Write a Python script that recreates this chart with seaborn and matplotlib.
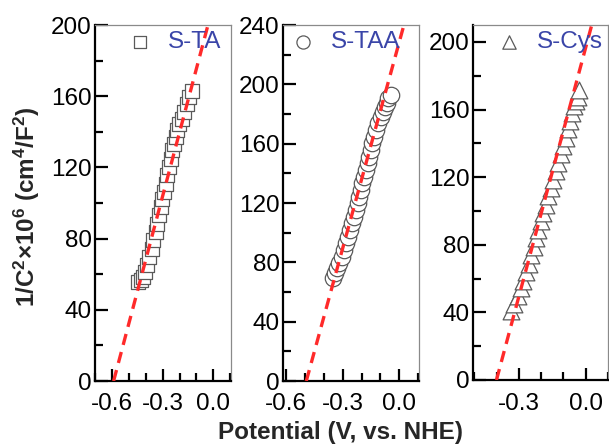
import numpy as np
import pandas as pd
import matplotlib
matplotlib.use("Agg")
import matplotlib.pyplot as plt
import seaborn as sns
from matplotlib.ticker import MultipleLocator

# ---------------- data ----------------
ta_x = [-0.443, -0.429, -0.418, -0.404, -0.391, -0.379, -0.365, -0.355, -0.341, -0.332,
        -0.322, -0.312, -0.302, -0.292, -0.282, -0.273, -0.263, -0.253, -0.243, -0.234,
        -0.222, -0.214, -0.202, -0.188, -0.175, -0.159, -0.143, -0.129]
ta_y = [55.7, 56.6, 58.5, 61.3, 65.1, 69.7, 74.4, 79.1, 83.7, 88.4,
        93.1, 97.8, 102.5, 106.2, 110.9, 115.5, 120.2, 124.9, 129.6, 133.3,
        137.0, 140.8, 144.5, 147.3, 151.0, 155.7, 159.5, 163.2]

taa_x = [-0.349, -0.342, -0.330, -0.319, -0.306, -0.294, -0.284, -0.271, -0.259, -0.248,
         -0.239, -0.230, -0.221, -0.213, -0.204, -0.195, -0.186, -0.177, -0.168, -0.160,
         -0.151, -0.142, -0.133, -0.124, -0.112, -0.099, -0.088, -0.076, -0.067, -0.058, -0.046]
taa_y = [69.2, 72.6, 76.0, 79.8, 83.8, 88.3, 92.8, 97.3, 101.8, 106.3,
         110.8, 115.3, 119.8, 124.3, 128.8, 133.3, 137.7, 142.2, 146.7, 151.2,
         155.7, 160.2, 164.7, 169.2, 173.7, 178.2, 181.6, 184.9, 187.6, 190.6, 192.8]

cys_x = [-0.335, -0.320, -0.305, -0.290, -0.280, -0.268, -0.256, -0.246, -0.234, -0.223,
         -0.213, -0.201, -0.191, -0.179, -0.168, -0.156, -0.146, -0.134, -0.124, -0.112,
         -0.101, -0.089, -0.079, -0.070, -0.060, -0.051, -0.042, -0.036, -0.030]
cys_y = [41.0, 45.0, 49.5, 54.5, 58.8, 63.8, 68.8, 73.8, 78.8, 83.8,
         88.8, 93.8, 98.8, 103.7, 108.7, 113.6, 118.6, 123.5, 128.4, 133.4,
         138.3, 143.3, 148.2, 153.1, 158.1, 162.0, 165.0, 167.5, 171.5]

# linear fits (endpoints)
ta_fit_x, ta_fit_y = [-0.59, -0.032], [0, 200]
taa_fit_x, taa_fit_y = [-0.493, 0.025], [0, 240]
cys_fit_x, cys_fit_y = [-0.401, 0.027], [0, 210]

labels = ["S-TA", "S-TAA", "S-Cys"]
xlims = [(-0.7, 0.104), (-0.615, 0.105), (-0.505, 0.1)]
ylims = [(0, 200), (0, 240), (0, 210)]
xticks = [[-0.6, -0.3, 0.0], [-0.6, -0.3, 0.0], [-0.3, 0.0]]
xticklabels = [["-0.6", "-0.3", "0.0"], ["-0.6", "-0.3", "0.0"], ["-0.3", "0.0"]]
yticks = [[0, 40, 80, 120, 160, 200], [0, 40, 80, 120, 160, 200, 240], [0, 40, 80, 120, 160, 200]]

# ---------------- style ----------------
sns.set_style("ticks")
plt.rcParams["font.family"] = ["Liberation Sans", "DejaVu Sans"]
plt.rcParams["mathtext.fontset"] = "custom"
plt.rcParams["mathtext.rm"] = "Liberation Sans:bold"
plt.rcParams["mathtext.bf"] = "Liberation Sans:bold"
plt.rcParams["mathtext.default"] = "bf"

FS = 17.5
BLUE = "#3A45A8"
MEC = "#5a5a5a"

fig = plt.figure(figsize=(6.09, 4.46), dpi=100)
W, H = 609, 446
boxes = [(95, 231, 25, 381), (283.3, 419, 25, 381), (473.3, 608, 25, 380)]

datasets = [
    (ta_x, ta_y, ta_fit_x, ta_fit_y, "s", 115),
    (taa_x, taa_y, taa_fit_x, taa_fit_y, "o", 140),
    (cys_x, cys_y, cys_fit_x, cys_fit_y, "^", 145),
]
leg_anchor = [(0.262, 0.982), (0.075, 0.982), (0.19, 0.982)]

for i, ((l, r, t, b), (dx, dy, fx, fy, mk, ms)) in enumerate(zip(boxes, datasets)):
    ax = fig.add_axes([l / W, 1 - b / H, (r - l) / W, (b - t) / H])
    df = pd.DataFrame({"x": dx, "y": dy})
    sns.scatterplot(data=df, x="x", y="y", ax=ax, marker=mk, s=ms,
                    facecolor="white", edgecolor=MEC, linewidth=0.9,
                    label=labels[i], zorder=2)
    fdf = pd.DataFrame({"x": fx, "y": fy})
    sns.lineplot(data=fdf, x="x", y="y", ax=ax, color="#FF2A2A", linewidth=2.4,
                 linestyle=(0, (3.4, 2.2)), zorder=3, sort=False)
    ax.set_xlim(*xlims[i])
    ax.set_ylim(*ylims[i])
    ax.set_xticks(xticks[i])
    ax.set_xticklabels(xticklabels[i])
    ax.set_yticks(yticks[i])
    ax.xaxis.set_minor_locator(MultipleLocator(0.1))
    ax.yaxis.set_minor_locator(MultipleLocator(20))
    ax.set_xlabel("")
    ax.set_ylabel("")
    ax.tick_params(which="both", direction="in", top=False, right=False,
                   width=1.6, colors="black", labelsize=FS)
    ax.tick_params(which="major", length=9)
    ax.tick_params(which="minor", length=5.5)
    ax.tick_params(axis="x", which="both", pad=9)
    ax.tick_params(axis="y", which="both", pad=2.5)
    for s in ["left", "bottom"]:
        ax.spines[s].set_linewidth(1.6)
        ax.spines[s].set_color("black")
    for s in ["top", "right"]:
        ax.spines[s].set_linewidth(0.9)
        ax.spines[s].set_color("#8a8a8a")
        ax.spines[s].set_visible(True)
    leg = ax.legend(loc="upper left", bbox_to_anchor=leg_anchor[i],
                    frameon=False, fontsize=FS, handlelength=0.8, handletextpad=0.75,
                    borderpad=0, borderaxespad=0, labelcolor=BLUE, markerscale=0.8)
    for h in leg.legend_handles:
        h.set_facecolor("white")
        h.set_edgecolor(MEC)

fig.text(27 / W, 1 - 207 / H, "1/C$^2$×10$^6$ (cm$^4$/F$^2$)", rotation=90,
         ha="center", va="center", fontsize=FS, fontweight="bold")
fig.text(341 / W, 1 - 432 / H, "Potential (V, vs. NHE)", ha="center", va="center",
         fontsize=FS, fontweight="bold")

fig.savefig("out.png", dpi=100)
